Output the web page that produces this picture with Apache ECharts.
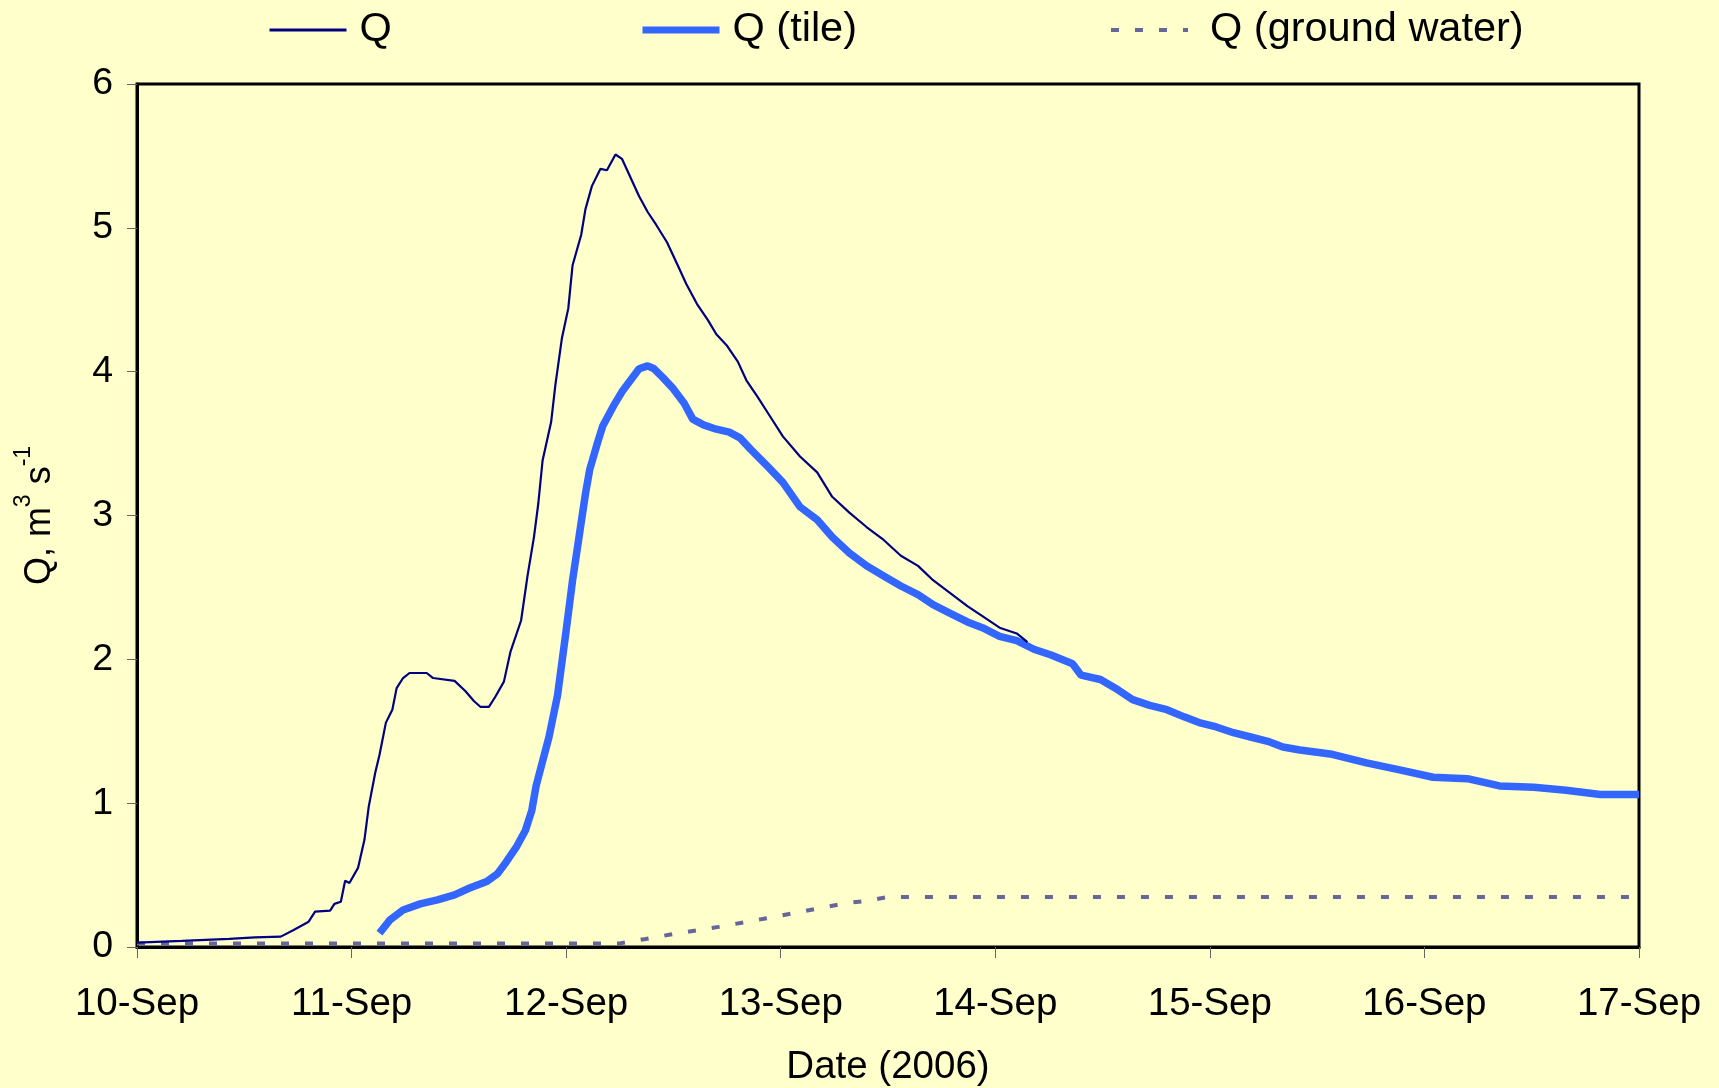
<!DOCTYPE html>
<html>
<head>
<meta charset="utf-8">
<script src="https://cdn.jsdelivr.net/npm/echarts@6/dist/echarts.min.js"></script>
<style>
html,body{margin:0;padding:0;background:#FFFFCC;}
#chart{width:1719px;height:1088px;}
</style>
</head>
<body>
<div id="chart"></div>
<script>
// x values are days since 10-Sep-2006 00:00
const xTickLabels = ['10-Sep','11-Sep','12-Sep','13-Sep','14-Sep','15-Sep','16-Sep','17-Sep'];
const seriesNames = ['Q', 'Q (tile)', 'Q (ground water)'];

const qDays = [0.00,0.21,0.43,0.55,0.67,0.73,0.80,0.83,0.90,0.92,0.95,0.97,0.99,1.03,1.06,1.08,1.11,1.13,1.16,1.19,1.21,1.24,1.27,1.35,1.38,1.48,1.53,1.57,1.60,1.64,1.67,1.71,1.74,1.79,1.82,1.85,1.87,1.89,1.93,1.95,1.98,2.01,2.03,2.07,2.09,2.12,2.16,2.19,2.23,2.26,2.30,2.34,2.38,2.42,2.47,2.52,2.56,2.61,2.66,2.70,2.75,2.80,2.84,2.89,2.95,3.01,3.09,3.17,3.24,3.32,3.40,3.48,3.56,3.64,3.71,3.79,3.87,3.94,4.02,4.10,4.15];
const qValues = [0.03,0.042,0.056,0.067,0.072,0.118,0.176,0.246,0.253,0.30,0.315,0.46,0.445,0.55,0.745,0.976,1.21,1.335,1.56,1.65,1.80,1.87,1.905,1.905,1.87,1.85,1.78,1.71,1.67,1.67,1.74,1.845,2.05,2.27,2.58,2.85,3.08,3.38,3.65,3.91,4.23,4.44,4.74,4.95,5.13,5.29,5.41,5.40,5.51,5.48,5.35,5.22,5.11,5.02,4.90,4.74,4.61,4.47,4.36,4.26,4.18,4.07,3.94,3.83,3.69,3.55,3.41,3.30,3.13,3.02,2.92,2.83,2.72,2.65,2.55,2.46,2.37,2.30,2.22,2.18,2.12];

const tileDays = [1.13,1.18,1.24,1.32,1.40,1.48,1.55,1.63,1.68,1.72,1.77,1.81,1.84,1.86,1.92,1.96,2.00,2.03,2.065,2.09,2.11,2.145,2.17,2.22,2.26,2.30,2.34,2.38,2.41,2.45,2.50,2.55,2.59,2.64,2.70,2.76,2.81,2.86,2.94,3.01,3.09,3.17,3.24,3.32,3.40,3.48,3.56,3.64,3.71,3.79,3.87,3.94,4.02,4.10,4.18,4.26,4.36,4.40,4.49,4.57,4.64,4.72,4.80,4.88,4.95,5.03,5.11,5.19,5.27,5.34,5.42,5.57,5.73,5.89,6.04,6.20,6.35,6.51,6.66,6.82,7.00];
const tileValues = [0.097,0.19,0.257,0.30,0.327,0.362,0.41,0.455,0.51,0.59,0.70,0.81,0.95,1.12,1.46,1.75,2.20,2.55,2.90,3.15,3.32,3.50,3.62,3.76,3.86,3.94,4.02,4.04,4.02,3.96,3.88,3.78,3.67,3.63,3.60,3.58,3.54,3.46,3.34,3.23,3.06,2.97,2.85,2.74,2.65,2.58,2.51,2.45,2.38,2.32,2.26,2.22,2.16,2.13,2.07,2.03,1.97,1.89,1.86,1.79,1.72,1.68,1.65,1.60,1.56,1.53,1.49,1.46,1.43,1.39,1.37,1.34,1.28,1.23,1.18,1.17,1.12,1.11,1.09,1.06,1.06];

const gwDays = [0.00,2.25,2.37,2.48,2.71,2.92,3.11,3.21,3.31,3.40,3.50,7.00];
const gwValues = [0.025,0.025,0.056,0.085,0.14,0.196,0.25,0.278,0.306,0.32,0.348,0.348];

const zip = (xs, ys) => xs.map((x, i) => [x, ys[i]]);

const FONT = '"Liberation Sans", Arial, sans-serif';
const legendBase = {
  top: 9, padding: 0, itemWidth: 77, itemHeight: 14,
  itemStyle: {opacity: 0},
  textStyle: {fontFamily: FONT, fontSize: 41.5, color: '#000', padding: [0, 0, 0, 8]}
};
const chart = echarts.init(document.getElementById('chart'), null, {renderer: 'canvas'});
chart.setOption({
  backgroundColor: '#FFFFCC',
  animation: false,
  legend: [
    Object.assign({}, legendBase, {left: 268, data: [seriesNames[0]], lineStyle: {width: 3}}),
    Object.assign({}, legendBase, {left: 639, data: [seriesNames[1]], lineStyle: {width: 7}}),
    Object.assign({}, legendBase, {left: 1109, data: [seriesNames[2]], lineStyle: {width: 4, type: [8, 16]},
      textStyle: {fontFamily: FONT, fontSize: 41.5, color: '#000', padding: [0, 0, 0, 17]}})
  ],
  grid: {
    left: 137, right: 80, top: 84, bottom: 141,
    outerBoundsMode: 'none', containLabel: false,
    show: true, borderColor: '#000', borderWidth: 3, backgroundColor: 'transparent'
  },
  xAxis: {
    type: 'value', min: 0, max: 7, interval: 1,
    name: 'Date (2006)', nameLocation: 'middle', nameGap: 101,
    nameTextStyle: {fontFamily: FONT, fontSize: 38.5, color: '#000'},
    axisLine: {show: true, onZero: false, lineStyle: {color: '#000', width: 3}},
    axisTick: {show: true, inside: false, length: 11, lineStyle: {color: '#666', width: 1}},
    axisLabel: {fontFamily: FONT, fontSize: 38.5, color: '#000', margin: 38,
      formatter: v => xTickLabels[Math.round(v)] || ''},
    splitLine: {show: false}
  },
  yAxis: {
    type: 'value', min: 0, max: 6, interval: 1,
    name: '{a|Q, m}{s|3}{a| s}{s|-1}', nameLocation: 'middle', nameGap: 79, nameRotate: 90,
    nameTextStyle: {
      fontFamily: FONT, fontSize: 36, color: '#000',
      rich: {
        a: {fontFamily: FONT, fontSize: 36, color: '#000', verticalAlign: 'bottom', lineHeight: 46},
        s: {fontFamily: FONT, fontSize: 23, color: '#000', verticalAlign: 'top', lineHeight: 46}
      }
    },
    axisLine: {show: true, lineStyle: {color: '#000', width: 3}},
    axisTick: {show: true, inside: false, length: 10, lineStyle: {color: '#666', width: 1}},
    axisLabel: {fontFamily: FONT, fontSize: 37.5, color: '#000', margin: 24},
    splitLine: {show: false}
  },
  series: [
    {
      name: seriesNames[0], type: 'line', data: zip(qDays, qValues),
      showSymbol: false, symbol: 'none', z: 4,
      lineStyle: {color: '#000080', width: 2.2}, itemStyle: {color: '#000080'}
    },
    {
      name: seriesNames[1], type: 'line', data: zip(tileDays, tileValues),
      showSymbol: false, symbol: 'none', z: 3,
      lineStyle: {color: '#3366FF', width: 7.5}, itemStyle: {color: '#3366FF'}
    },
    {
      name: seriesNames[2], type: 'line', data: zip(gwDays, gwValues),
      showSymbol: false, symbol: 'none', z: 2,
      lineStyle: {color: '#666699', width: 4, type: [8, 16]}, itemStyle: {color: '#666699'}
    }
  ]
});
</script>
</body>
</html>
